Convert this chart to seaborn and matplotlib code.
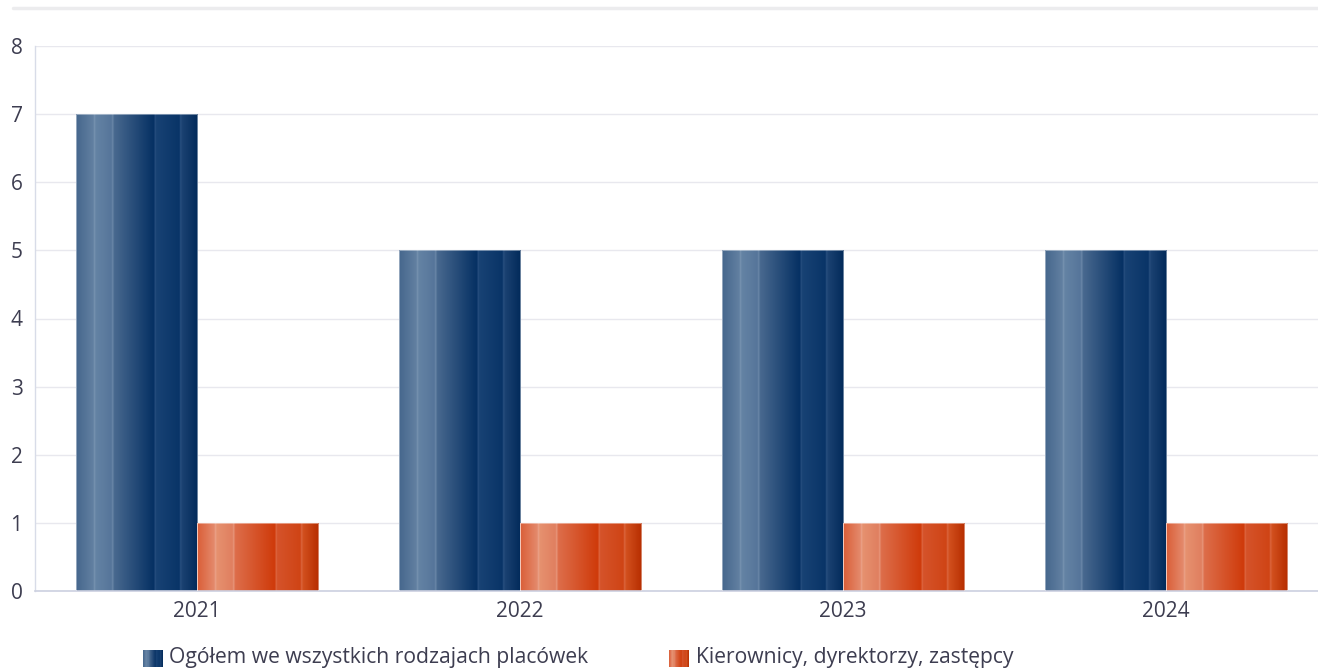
import numpy as np
import pandas as pd
import seaborn as sns
import matplotlib.pyplot as plt
from matplotlib.colors import LinearSegmentedColormap
from matplotlib.lines import Line2D

years = ['2021', '2022', '2023', '2024']
ogolem = [7, 5, 5, 5]
kierownicy = [1, 1, 1, 1]
series = ['Ogółem we wszystkich rodzajach placówek', 'Kierownicy, dyrektorzy, zastępcy']

blue_stops = [(0.00, '#46678d'), (0.14, '#6280a1'), (0.15, '#7b96b3'), (0.16, '#6483a4'),
              (0.29, '#56759a'), (0.30, '#6f8bab'), (0.31, '#49698f'), (0.64, '#053063'),
              (0.65, '#2a5080'), (0.66, '#184274'), (0.85, '#093467'), (0.86, '#2c5282'),
              (0.87, '#1b4272'), (1.00, '#022a5a')]
orange_stops = [(0.00, '#da5e38'), (0.14, '#e48a6c'), (0.15, '#eca58e'), (0.16, '#e6916f'),
                (0.29, '#e07f60'), (0.30, '#e89a80'), (0.31, '#dd6e4b'), (0.64, '#cf3a0a'),
                (0.65, '#de6a45'), (0.66, '#d5532a'), (0.85, '#cf4415'), (0.86, '#dc6a45'),
                (0.87, '#d2501f'), (1.00, '#b72e00')]
blue_cm = LinearSegmentedColormap.from_list('b', blue_stops)
orange_cm = LinearSegmentedColormap.from_list('o', orange_stops)

df = pd.DataFrame({
    'rok': years * 2,
    'wartosc': ogolem + kierownicy,
    'seria': [series[0]] * 4 + [series[1]] * 4,
})

sns.set_style('white')
plt.rcParams['font.family'] = ['Open Sans', 'DejaVu Sans']
text_col = '#3d3d50'
W, H = 1318, 672

fig = plt.figure(figsize=(W / 100, H / 100), dpi=100)
ax = fig.add_axes([35 / W, 1 - 591 / H, 1 - 35 / W, (591 - 46) / H])

sns.barplot(data=df, x='rok', y='wartosc', hue='seria', palette=['#1f4a7a', '#d5532a'],
            width=0.75, gap=0, legend=False, ax=ax, zorder=3)

grad = np.linspace(0, 1, 400).reshape(1, -1)
for i, p in enumerate(ax.patches):
    cm = blue_cm if i < 4 else orange_cm
    x, w, h = p.get_x(), p.get_width(), p.get_height()
    p.set_facecolor('none')
    p.set_edgecolor((1, 1, 1, 0.5))
    p.set_linewidth(0.6)
    im = ax.imshow(grad, cmap=cm, extent=[x, x + w, 0, h], aspect='auto', zorder=2.5,
                   interpolation='bilinear')
    im.set_clip_path(p)

# category centres at 197 px and 323 px apart
ax.set_xlim((35 - 197) / 323, (W - 197) / 323)
ax.set_ylim(0, 8)
ax.set_yticks(range(0, 9))
ax.yaxis.grid(True, color='#e8e8ee', lw=1, zorder=0)
ax.set_axisbelow(True)
ax.set_xlabel('')
ax.set_ylabel('')
ax.tick_params(axis='both', length=0, labelsize=15, colors=text_col)
ax.tick_params(axis='y', pad=9)
ax.tick_params(axis='x', pad=7)
for s in ['top', 'right']:
    ax.spines[s].set_visible(False)
ax.spines['left'].set_color('#d8dce8')
ax.spines['bottom'].set_color('#ccd0e0')
ax.spines['left'].set_linewidth(1)
ax.spines['bottom'].set_linewidth(1.2)

fig.add_artist(Line2D([13 / W, 1], [1 - 8 / H] * 2, color='#ececee', lw=2.5))

# legend drawn by hand: gradient swatch + label
for cm, label, x0, tx in [(blue_cm, series[0], 143, 169), (orange_cm, series[1], 669, 696)]:
    sw = fig.add_axes([x0 / W, 1 - 667 / H, 20 / W, 17 / H])
    sw.imshow(grad, cmap=cm, aspect='auto', interpolation='bilinear')
    sw.axis('off')
    fig.text(tx / W, 1 - 658 / H, label, fontsize=15.2, color=text_col, va='center', ha='left')

fig.savefig('out.png', dpi=100)
